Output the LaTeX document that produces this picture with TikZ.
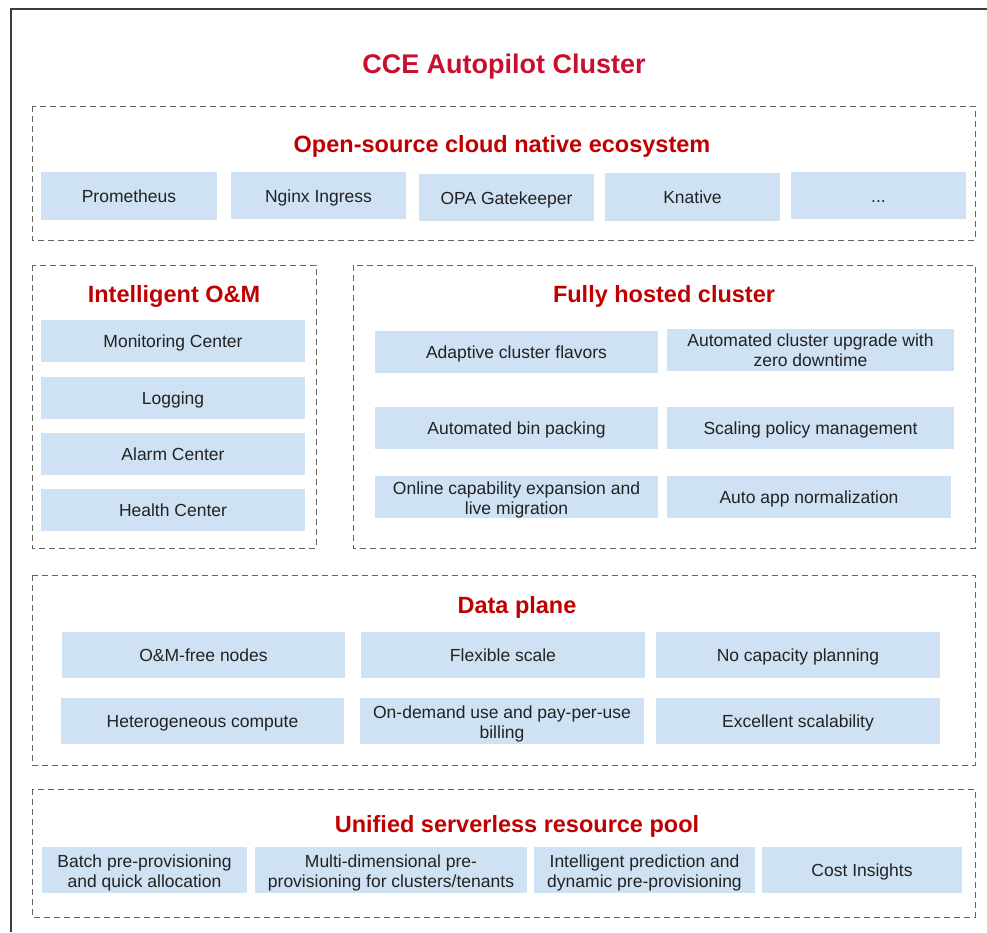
\documentclass[tikz,border=0pt]{standalone}
\usepackage{fontspec}
\setmainfont{Liberation Sans}
\definecolor{titlered}{RGB}{200,16,46}
\definecolor{secred}{RGB}{192,0,0}
\definecolor{boxblue}{RGB}{207,226,243}
\definecolor{itemtext}{RGB}{34,34,34}
\definecolor{dashgray}{RGB}{100,100,100}
\definecolor{framegray}{RGB}{60,60,60}
\tikzset{
  item/.style={fill=boxblue, draw=none, inner sep=0pt, align=center,
    text=itemtext, font=\fontsize{17.5}{20}\selectfont,
    text height=13.5pt, text depth=0pt},
  twoline/.style={text height=34pt, text depth=0pt},
  group/.style={draw=dashgray, line width=0.9pt, dash pattern=on 6pt off 4pt},
  sectitle/.style={text=secred, font=\fontsize{23.5}{27}\selectfont\bfseries, inner sep=0pt,
    text height=16.8pt, text depth=0pt},
  maintitle/.style={text=titlered, font=\fontsize{27}{31}\selectfont\bfseries, inner sep=0pt,
    text height=19.3pt, text depth=0pt}
}
\begin{document}
\begin{tikzpicture}[x=1pt,y=-1pt]
\useasboundingbox (0,0) rectangle (987,932);
\fill[white] (0,0) rectangle (987,932);
% outer frame (right and bottom edges lie outside the picture)
\draw[framegray, line width=1.3pt] (11,932) -- (11,9) -- (987,9);
\node[maintitle] (main) at (504,64.2) {CCE Autopilot Cluster};

% Open-source cloud native ecosystem
\draw[group] (32,106) rectangle (975,240);
\node[sectitle] (ostitle) at (502,144.5) {Open-source cloud native ecosystem};
\node[item, minimum width=176pt, minimum height=48pt] (prom) at (129,196) {Prometheus};
\node[item, minimum width=175pt, minimum height=47pt] (nginx) at (318.5,195.5) {Nginx Ingress};
\node[item, minimum width=175pt, minimum height=47pt] (opa) at (506.5,197.5) {OPA Gatekeeper};
\node[item, minimum width=175pt, minimum height=48pt] (knative) at (692.5,197) {Knative};
\node[item, minimum width=175pt, minimum height=47pt] (more) at (878.5,195.5) {...};

% Intelligent O&M
\draw[group] (32,265) rectangle (316,548);
\node[sectitle] (omtitle) at (174,293.8) {Intelligent O\&M};
\node[item, minimum width=264pt, minimum height=42pt] (mon) at (173,341) {Monitoring Center};
\node[item, minimum width=264pt, minimum height=42pt] (log) at (173,397.5) {Logging};
\node[item, minimum width=264pt, minimum height=42pt] (alarm) at (173,453.5) {Alarm Center};
\node[item, minimum width=264pt, minimum height=42pt] (health) at (173,510) {Health Center};

% Fully hosted cluster
\draw[group] (353,265) rectangle (975,548);
\node[sectitle] (fhtitle) at (664,293.8) {Fully hosted cluster};
\node[item, minimum width=283pt, minimum height=42pt] (adapt) at (516.5,351.5) {Adaptive cluster flavors};
\node[item, twoline, minimum width=287pt, minimum height=42pt] (upgrade) at (810.5,349.5) {Automated cluster upgrade with\\zero downtime};
\node[item, minimum width=283pt, minimum height=42pt] (bin) at (516.5,427.5) {Automated bin packing};
\node[item, minimum width=287pt, minimum height=42pt] (scaling) at (810.5,427.5) {Scaling policy management};
\node[item, twoline, minimum width=283pt, minimum height=42pt] (online) at (516.5,497) {Online capability expansion and\\live migration};
\node[item, minimum width=284pt, minimum height=42pt] (autoapp) at (809,497) {Auto app normalization};

% Data plane
\draw[group] (32,575) rectangle (975,765);
\node[sectitle] (dptitle) at (517,605.3) {Data plane};
\node[item, minimum width=283pt, minimum height=46pt] (omfree) at (203.5,655) {O\&M-free nodes};
\node[item, minimum width=284pt, minimum height=46pt] (flex) at (503,655) {Flexible scale};
\node[item, minimum width=284pt, minimum height=46pt] (nocap) at (798,655) {No capacity planning};
\node[item, minimum width=283pt, minimum height=46pt] (hetero) at (202.5,721) {Heterogeneous compute};
\node[item, twoline, minimum width=284pt, minimum height=46pt] (ondemand) at (502,721) {On-demand use and pay-per-use\\billing};
\node[item, minimum width=284pt, minimum height=46pt] (excel) at (798,721) {Excellent scalability};

% Unified serverless resource pool
\draw[group] (32,789) rectangle (975,917);
\node[sectitle] (ustitle) at (517,824) {Unified serverless resource pool};
\node[item, twoline, minimum width=205pt, minimum height=46pt] (batch) at (144.5,870) {Batch pre-provisioning\\and quick allocation};
\node[item, twoline, minimum width=272pt, minimum height=46pt] (multi) at (391,870) {Multi-dimensional pre-\\provisioning for clusters/tenants};
\node[item, twoline, minimum width=221pt, minimum height=46pt] (predict) at (644.5,870) {Intelligent prediction and\\dynamic pre-provisioning};
\node[item, minimum width=200pt, minimum height=46pt] (cost) at (862,870) {Cost Insights};
\end{tikzpicture}
\end{document}
